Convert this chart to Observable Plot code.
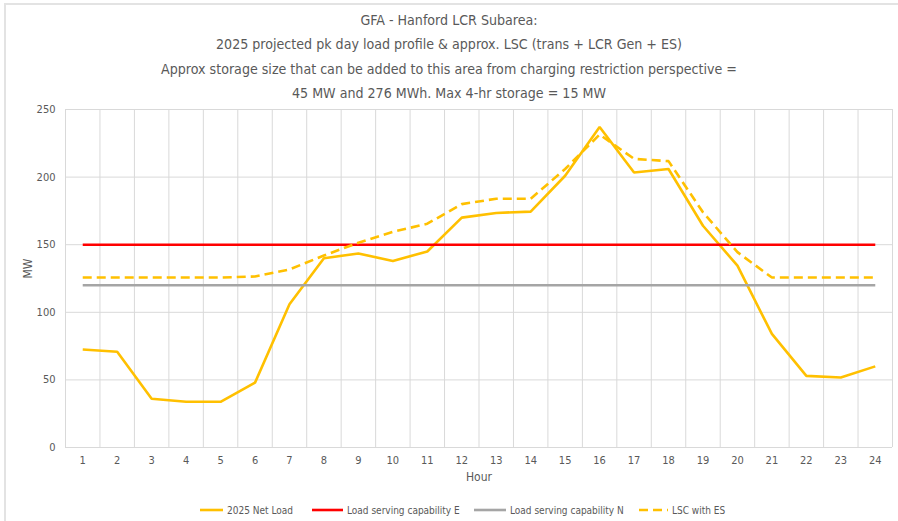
<!DOCTYPE html>
<html>
<head>
<meta charset="utf-8">
<script src="https://cdn.jsdelivr.net/npm/d3@7"></script>
<script src="https://cdn.jsdelivr.net/npm/@observablehq/plot@0.6"></script>
<style>
  html, body { margin: 0; padding: 0; background: #fff; }
  #wrap { position: relative; width: 898px; height: 521px; overflow: hidden; font-family: "DejaVu Sans Condensed", "DejaVu Sans", sans-serif; font-stretch: condensed; color: #595959; }
  #frame { position: absolute; left: 4px; top: 3px; width: 900px; height: 530px; border-left: 2px solid #e3e3e3; border-top: 2px solid #e3e3e3; box-sizing: border-box; }
  #title { position: absolute; left: 0; top: 8px; width: 898px; text-align: center; font-size: 14.1px; line-height: 24.3px; }
  #chart { position: absolute; left: 0; top: 0; }
  #legend { position: absolute; top: 502px; left: 0; width: 898px; height: 16px; font-size: 10px; }
  .li { position: absolute; top: 0; display: flex; align-items: center; height: 16px; }
  .li svg { margin-right: 4px; }
</style>
</head>
<body>
<div id="wrap">
  <div id="frame"></div>
  <div id="chart"></div>
  <div id="title"></div>
  <div id="legend"></div>
</div>
<script>
// ---- data ----
const titleLines = [
  "GFA - Hanford LCR Subarea:",
  "2025 projected pk day load profile & approx. LSC (trans + LCR Gen + ES)",
  "Approx storage size that can be added to this area from charging restriction perspective =",
  "45 MW and 276 MWh. Max 4-hr storage = 15 MW"
];
const hours = [1,2,3,4,5,6,7,8,9,10,11,12,13,14,15,16,17,18,19,20,21,22,23,24];
const netLoad = [72.5,70.8,36,33.8,33.8,48,106,140,143.5,138,145,170,173.5,174.5,201,237,203.4,206,164,134.5,84,53,51.8,60];
const lscE = [150,150,150,150,150,150,150,150,150,150,150,150,150,150,150,150,150,150,150,150,150,150,150,150];
const lscN = [120,120,120,120,120,120,120,120,120,120,120,120,120,120,120,120,120,120,120,120,120,120,120,120];
const lscES = [125.7,125.7,125.7,125.7,125.7,126.5,131.7,142,151.5,159.5,165.5,180,184,184,206,231.5,213.5,211.8,174,144.5,125.7,125.7,125.7,125.7];
const yTicks = [0,50,100,150,200,250];
const seriesNames = ["2025 Net Load", "Load serving capability E", "Load serving capability N", "LSC with ES"];
const colors = ["#FFC000", "#FF0000", "#A5A5A5", "#FFC000"];
const dashes = [null, null, null, "9,5"];

// ---- title ----
document.getElementById("title").innerHTML = titleLines.map(t => `<div>${t}</div>`).join("");

// ---- table ----
const allSeries = [netLoad, lscE, lscN, lscES];
const rows = [];
allSeries.forEach((vals, s) => hours.forEach((h, i) => rows.push({series: seriesNames[s], hour: h, value: vals[i]})));
const bounds = d3.range(hours.length + 1).map(i => hours[0] - 0.5 + i);

const fontFam = '"DejaVu Sans Condensed", "DejaVu Sans", sans-serif';
const plot = Plot.plot({
  width: 898,
  height: 521,
  marginTop: 109,
  marginBottom: 74,
  marginLeft: 65,
  marginRight: 6,
  style: { fontFamily: fontFam, fontStretch: "condensed", fontSize: "11px", color: "#595959", background: "transparent" },
  x: { type: "linear", domain: [0.5, 24.5], ticks: hours, tickFormat: d => d, tickSize: 0, tickPadding: 9, label: null },
  y: { domain: [0, 250], ticks: yTicks, tickSize: 0, tickPadding: 10, label: null },
  marks: [
    Plot.ruleX(bounds, { x: d => d, stroke: "#d9d9d9", strokeWidth: 1 }),
    Plot.ruleY(yTicks, { y: d => d, stroke: "#d9d9d9", strokeWidth: 1 }),
    ...seriesNames.map((name, s) => Plot.line(rows.filter(r => r.series === name), {
      x: "hour", y: "value", stroke: colors[s], strokeWidth: 2.6,
      strokeDasharray: dashes[s] || undefined, strokeLinejoin: "miter", strokeLinecap: "butt"
    })),
    Plot.axisX({ ticks: hours, tickFormat: d => d, tickSize: 0, tickPadding: 9, label: null, fontSize: 11 }),
    Plot.axisY({ ticks: yTicks, tickSize: 0, tickPadding: 10, label: null, fontSize: 11 }),
    Plot.text(["Hour"], { frameAnchor: "bottom", dy: 33, text: d => d, fontSize: 12, fill: "#595959" }),
    Plot.text(["MW"], { frameAnchor: "left", dx: -37, rotate: -90, text: d => d, fontSize: 12, fill: "#595959" })
  ]
});
document.getElementById("chart").appendChild(plot);

// ---- legend ----
const legendPos = [[200, 23], [312, 31], [474, 32], [639, 29]];
const leg = document.getElementById("legend");
seriesNames.forEach((name, s) => {
  const [x, w] = legendPos[s];
  const el = document.createElement("div");
  el.className = "li";
  el.style.left = x + "px";
  el.innerHTML = `<svg width="${w}" height="6"><line x1="0" x2="${w}" y1="3" y2="3" stroke="${colors[s]}" stroke-width="2.6" ${dashes[s] ? `stroke-dasharray="${dashes[s]}"` : ""}/></svg><span>${name}</span>`;
  leg.appendChild(el);
});
</script>
</body>
</html>
